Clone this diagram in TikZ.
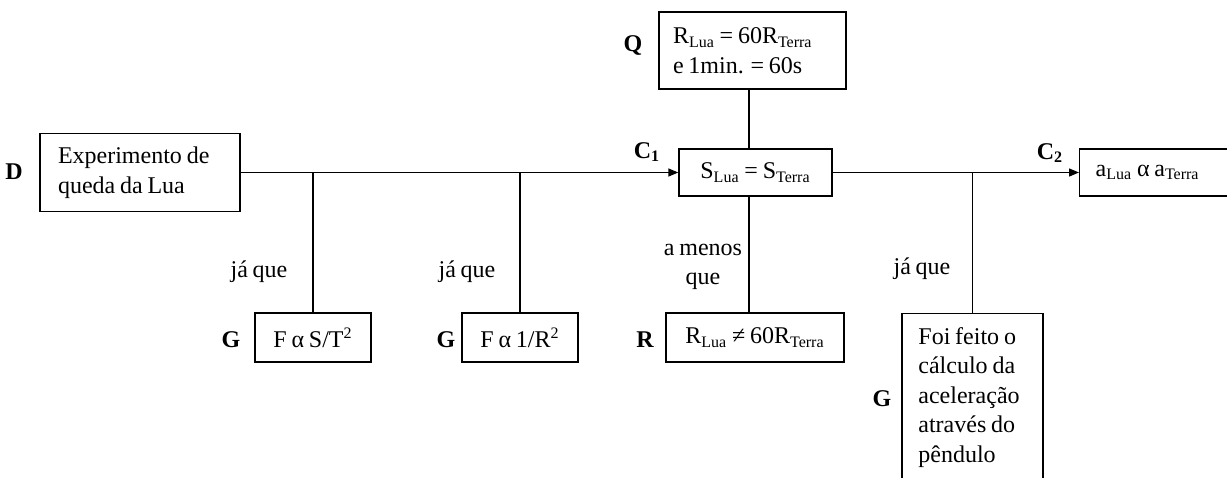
\documentclass[tikz,border=0pt]{standalone}
\usepackage{fontspec}
\setmainfont[WordSpace=0.8]{Liberation Serif}
\usetikzlibrary{arrows.meta}
\newcommand\lowtxt[1]{\textsubscript{#1}}

\begin{document}
\begin{tikzpicture}[x=0.5pt,y=-0.5pt,
  every node/.style={font=\fontsize{12}{14.75}\selectfont},
  box/.style={draw,line width=0.7pt,inner sep=0pt},
  tag/.style={font=\fontsize{12}{14.75}\selectfont\bfseries},
  link/.style={line width=0.7pt},
  arr/.style={link,-{Triangle[length=5pt,width=4pt]}}]
 \useasboundingbox (0,0) rectangle (1227,477);
 \clip (0,0) rectangle (1227,477);
 % boxes
 \node[box,text width=82pt,inner xsep=9pt,minimum height=39pt,align=flush left] (d) at (140,172.5) {Experimento de\\queda da Lua};
 \node[box,text width=79.5pt,inner xsep=7pt,minimum height=38.5pt,align=flush left] (q) at (752.5,50.5) {R\lowtxt{Lua} = 60R\lowtxt{Terra}\\e 1min. = 60s};
 \node[box,minimum width=76.5pt,minimum height=23.5pt] (s) at (755.5,172.5) {S\lowtxt{Lua} = S\lowtxt{Terra}};
 \node[box,anchor=west,text width=77pt,inner xsep=8pt,minimum height=23.5pt,align=flush left] (ac) at (1079,172.5) {a\lowtxt{Lua} α a\lowtxt{Terra}};
 \node[box,minimum width=58pt,minimum height=24.5pt] (g1) at (313,337.5) {F α S/T\textsuperscript{2}};
 \node[box,minimum width=58pt,minimum height=24.5pt] (g2) at (520,337.5) {F α 1/R\textsuperscript{2}};
 \node[box,minimum width=89pt,minimum height=24.5pt] (r) at (755,337.5) {R\lowtxt{Lua} ≠ 60R\lowtxt{Terra}};
 \node[box,anchor=north,minimum width=70.5pt,minimum height=100pt] (g3) at (972.5,313) {};
 \node[anchor=north west,inner sep=0pt,align=left] (g3txt) at (918,327) {Foi feito o\\cálculo da\\aceleração\\através do\\pêndulo};
 % connectors
 \coordinate (mid) at (749,0);
 \draw[arr] (d.east) -- (s.west);
 \draw[arr] (s.east) -- (ac.west);
 \draw[link] (q.south -| mid) -- (s.north -| mid);
 \draw[link] (s.south -| mid) -- (r.north -| mid);
 \draw[link] (g1.north) -- (g1.north |- d.east);
 \draw[link] (g2.north) -- (g2.north |- d.east);
 \draw[link] (g3.north) -- (g3.north |- s.east);
 % labels
 \node[tag] (tD) at (14,172) {D};
 \node[tag] (tQ) at (633,45) {Q};
 \node[tag] (tC1) at (647,152) {C\textsubscript{1}};
 \node[tag] (tC2) at (1050,153) {C\textsubscript{2}};
 \foreach \nm/\px/\py in {tG1/231/340,tG2/446/340,tG3/882/399}
  \node[tag] (\nm) at (\px,\py) {G};
 \node[tag] (tR) at (645,340) {R};
 \foreach \nm/\px/\py in {jq1/259/272,jq2/467/272,jq3/922/269}
  \node (\nm) at (\px,\py) {já que};
 \node[align=center] (amq) at (703,267) {a menos\\que};
\end{tikzpicture}
\end{document}
